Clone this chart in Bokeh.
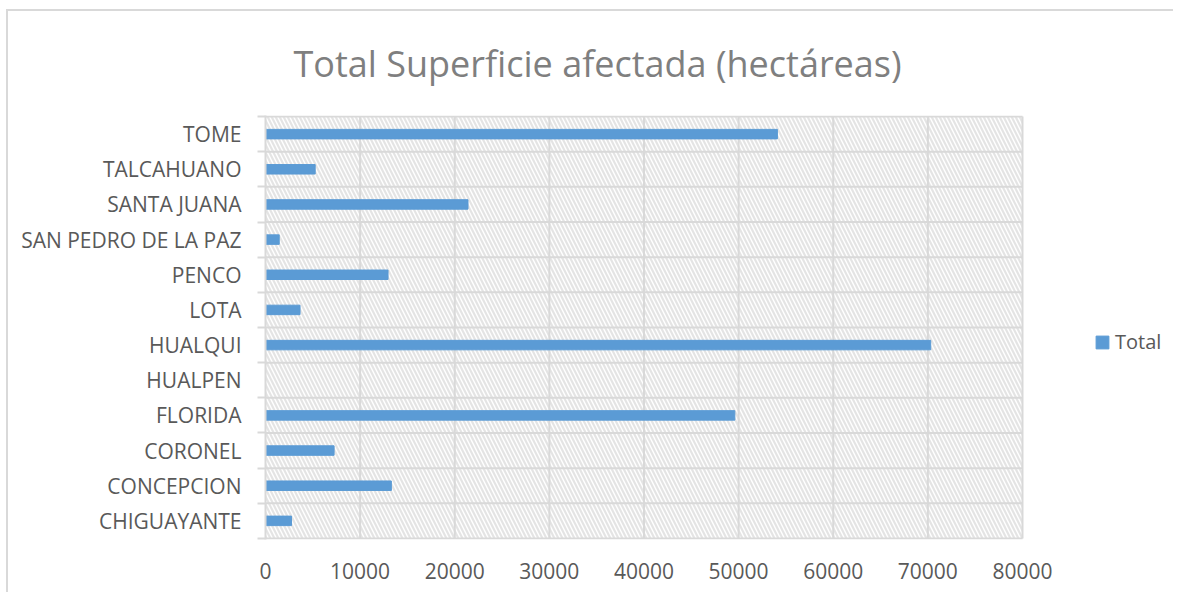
from bokeh.plotting import figure
from bokeh.models import (Range1d, FixedTicker, BoxAnnotation, Legend, LegendItem,
                          ColumnDataSource, Title)
from bokeh.embed import file_html
from bokeh.resources import INLINE

# ---- data (bottom to top) ----
comunas = ["CHIGUAYANTE", "CONCEPCION", "CORONEL", "FLORIDA", "HUALPEN", "HUALQUI",
           "LOTA", "PENCO", "SAN PEDRO DE LA PAZ", "SANTA JUANA", "TALCAHUANO", "TOME"]
total = [2750, 13300, 7250, 49600, 0, 70300, 3650, 12950, 1450, 21400, 5250, 54100]
x_ticks = [0, 10000, 20000, 30000, 40000, 50000, 60000, 70000, 80000]
title_text = "Total Superficie afectada (hectáreas)"
series_name = "Total"

n = len(comunas)
pos = [i + 0.5 for i in range(n)]
bounds = list(range(n + 1))
src = ColumnDataSource(dict(y=pos, total=total, name=comunas))

GRAY_TXT = "#595959"
GRID = "#d9d9d9"
BLUE = "#5B9BD5"

# layout (pixels)
W, H = 1167, 583
ML, MR, MT, MB = 257, 11, 104, 55
plot_px = 757                      # width of the 0..80000 plot area
frame_px = W - ML - MR
x_max = x_ticks[-1]
x_end = x_max * frame_px / plot_px
pad = 0.03

p = figure(width=W, height=H, output_backend="svg", toolbar_location=None,
           x_range=Range1d(0, x_end), y_range=Range1d(-pad, n + pad),
           min_border_left=ML, min_border_right=MR, min_border_top=MT,
           min_border_bottom=MB)
p.outline_line_color = None
p.xgrid.visible = False
p.ygrid.visible = False

# hatched plot area
p.add_layout(BoxAnnotation(left=0, right=x_max, bottom=0, top=n,
                           fill_color="white", fill_alpha=1.0,
                           hatch_pattern="left_diagonal_line", hatch_color="#e4e4e4",
                           hatch_scale=8, hatch_weight=2.2, line_color=None,
                           level="image"))

# gridlines limited to the plot area
p.segment(x0=0, x1=x_max, y0=bounds, y1=bounds, line_color=GRID, line_width=2,
          level="underlay")
p.segment(x0=x_ticks[1:], x1=x_ticks[1:], y0=0, y1=n, line_color=GRID, line_width=2,
          level="underlay")

r = p.hbar(y="y", right="total", left=0, height=0.27, source=src,
           fill_color=BLUE, line_color=BLUE)

# title
t = Title(text=title_text, align="left", vertical_align="top", text_font="Open Sans",
          text_font_size="36px", text_font_style="normal", text_color="#7f7f7f",
          offset=28, standoff=52)
p.add_layout(t, "above")

# x axis
p.xaxis.ticker = FixedTicker(ticks=x_ticks)
p.xaxis.axis_line_color = None
p.xaxis.major_tick_line_color = None
p.xaxis.minor_tick_line_color = None
p.xaxis.major_label_text_font = "Open Sans"
p.xaxis.major_label_text_font_size = "21px"
p.xaxis.major_label_text_color = GRAY_TXT
p.xaxis.major_label_standoff = 17
p.xaxis.formatter.use_scientific = False

# y axis
p.yaxis.ticker = FixedTicker(ticks=pos, minor_ticks=bounds)
p.yaxis.major_label_overrides = {v: c for v, c in zip(pos, comunas)}
p.yaxis.axis_line_color = GRID
p.yaxis.axis_line_width = 2
p.yaxis.major_tick_line_color = None
p.yaxis.minor_tick_line_color = GRID
p.yaxis.minor_tick_line_width = 2
p.yaxis.minor_tick_out = 8
p.yaxis.minor_tick_in = 0
p.yaxis.major_label_text_font = "Open Sans"
p.yaxis.major_label_text_font_size = "21px"
p.yaxis.major_label_text_color = GRAY_TXT
p.yaxis.major_label_standoff = 16

# legend
legend = Legend(items=[LegendItem(label=series_name, renderers=[r])],
                location=(plot_px + 72, 184), orientation="vertical",
                glyph_width=16, glyph_height=16, label_standoff=5,
                label_text_font="Open Sans", label_text_font_size="20px",
                label_text_color=GRAY_TXT, padding=0, margin=0,
                border_line_color=None, background_fill_alpha=0)
p.add_layout(legend, "center")

p.styles = {"border-left": "2px solid #d9d9d9", "border-top": "2px solid #d9d9d9",
            "margin-left": "6px", "margin-top": "9px"}

open("out.html", "w").write(file_html(p, INLINE))
